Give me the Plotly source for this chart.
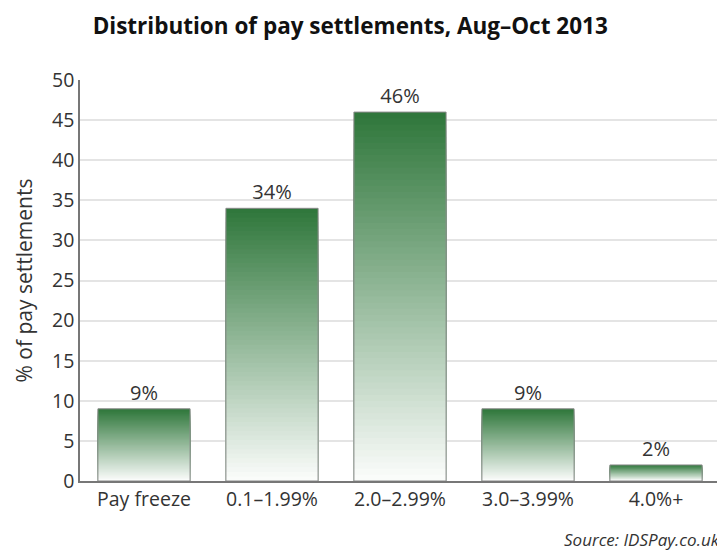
import plotly.graph_objects as go

categories = ["Pay freeze", "0.1–1.99%", "2.0–2.99%", "3.0–3.99%", "4.0%+"]
values = [9, 34, 46, 9, 2]
labels = ["9%", "34%", "46%", "9%", "2%"]
y_ticks = [0, 5, 10, 15, 20, 25, 30, 35, 40, 45, 50]

TOP = (46, 118, 58)
BOTTOM = (252, 253, 252)
N = 60
FONT = "Open Sans"

fig = go.Figure()
# layered bars produce a vertical gradient from dark green (top) to white (bottom)
for k in range(N):
    frac = (N - k) / N
    t = max(0.0, min(1.0, (N - k - 0.5) / N))
    col = tuple(round(BOTTOM[i] + (TOP[i] - BOTTOM[i]) * t) for i in range(3))
    fig.add_trace(go.Bar(
        x=categories,
        y=[v * frac for v in values],
        marker=dict(color="rgb(%d,%d,%d)" % col, line=dict(width=0)),
        hoverinfo="skip",
        showlegend=False,
    ))

fig.add_trace(go.Bar(
    x=categories,
    y=values,
    text=labels,
    textposition="outside",
    constraintext="none",
    textfont=dict(size=20, color="#333333", family=FONT),
    marker=dict(color="rgba(0,0,0,0)", line=dict(width=1, color="#8a8a8a")),
    cliponaxis=False,
    showlegend=False,
))

fig.update_layout(
    width=725, height=552,
    barmode="overlay",
    bargap=0.28,
    plot_bgcolor="white",
    paper_bgcolor="white",
    margin=dict(l=72, r=13, t=72, b=79),
    font=dict(family=FONT, color="#333333", size=19.5),
    title=dict(
        text="<b>Distribution of pay settlements, Aug–Oct 2013</b>",
        x=0.472, xanchor="center", y=0.968, yanchor="middle",
        font=dict(size=22.5, color="#111111", family=FONT),
    ),
    xaxis=dict(
        showline=True, linecolor="#777777", linewidth=1.5,
        ticks="", tickfont=dict(size=19.5, color="#333333"),
        showgrid=False,
    ),
    yaxis=dict(
        range=[0, 50], tickvals=y_ticks,
        showline=True, linecolor="#777777", linewidth=1.5,
        showgrid=True, gridcolor="#e4e4e4", gridwidth=1.5,
        ticks="", tickfont=dict(size=19.5, color="#333333"),
        title=dict(text="% of pay settlements", font=dict(size=21, color="#333333"), standoff=14),
        zeroline=False,
    ),
    annotations=[dict(
        text="<i>Source: IDSPay.co.uk</i>",
        xref="paper", yref="paper", x=1.003, y=-0.147,
        xanchor="right", yanchor="middle", showarrow=False,
        font=dict(size=17, color="#333333", family=FONT),
    )],
)

fig.write_html("out.html")
